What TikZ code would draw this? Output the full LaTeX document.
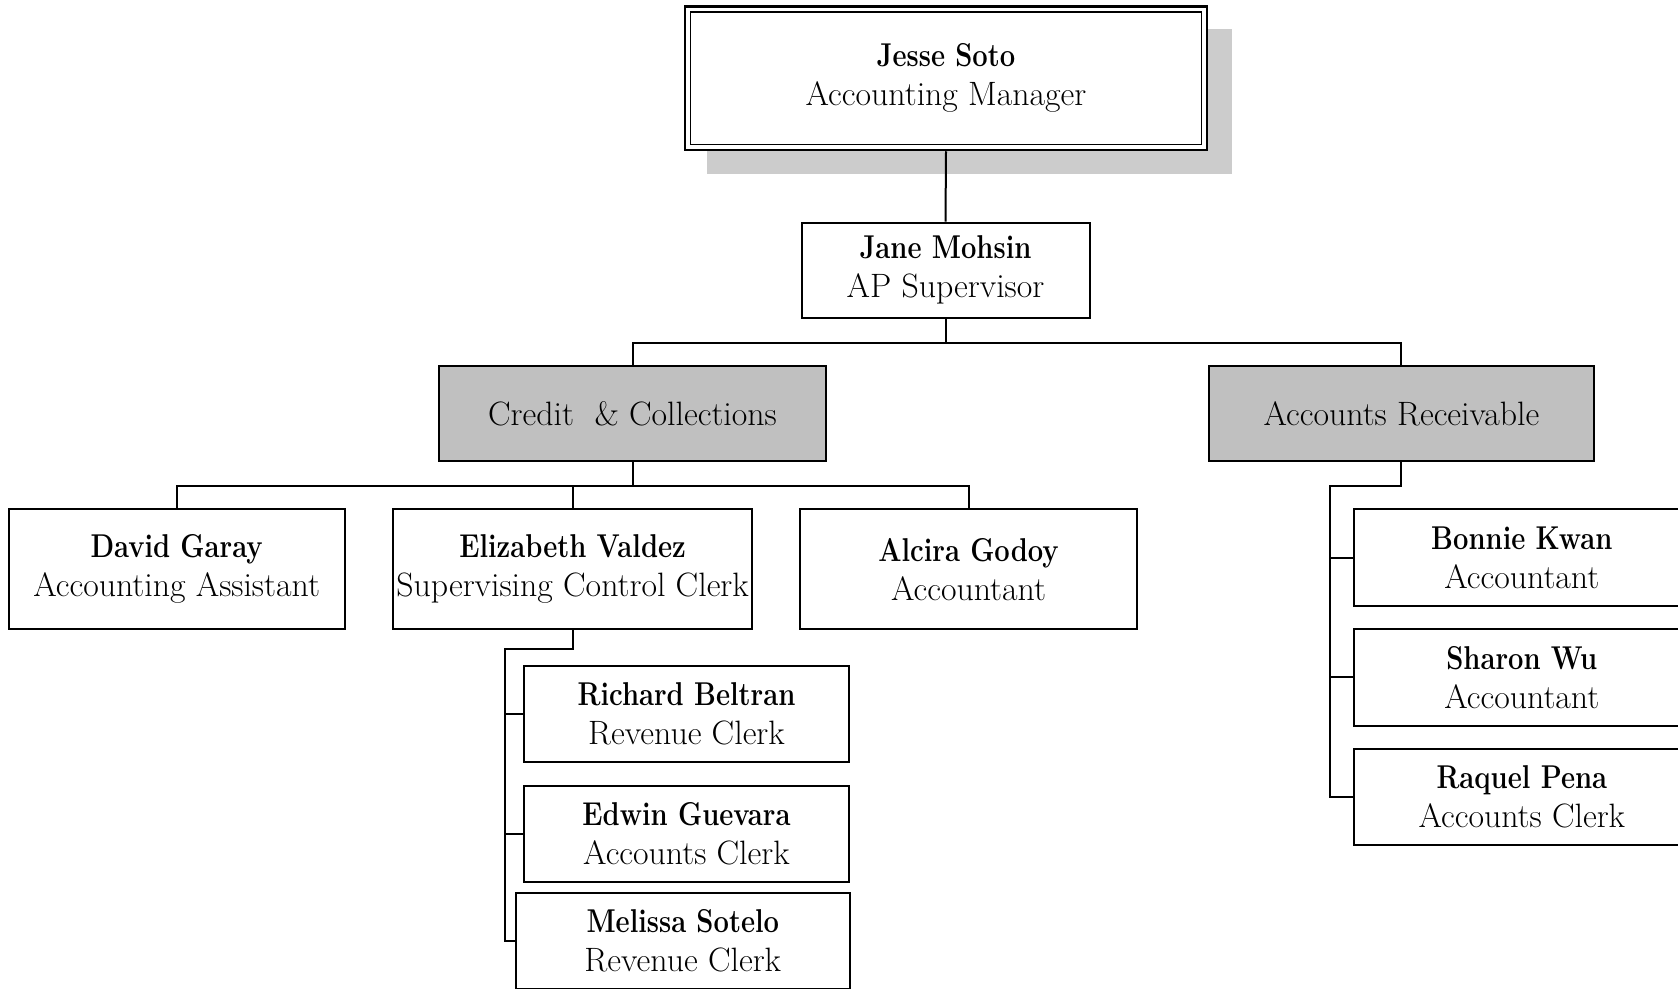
\documentclass[tikz,border=0pt]{standalone}
\newcommand{\pname}[1]{{\fontsize{33}{39}\selectfont\scalebox{0.83}[1]{\textbf{#1}}}}
\begin{document}
\begin{tikzpicture}[x=1pt,y=-1pt,
  pbox/.style={draw, line width=2pt, fill=white, inner sep=0pt, align=center,
    font=\fontsize{33.8}{39}\selectfont},
  gbox/.style={pbox, fill=boxgray},
  conn/.style={line width=2pt}]
\definecolor{boxgray}{HTML}{C0C0C0}
\definecolor{shadowgray}{HTML}{CCCCCC}
\useasboundingbox (0,0) rectangle (1678,988);
\clip (0,0) rectangle (1678,988);
% top box with shadow and double border
\fill[shadowgray] (707,29) rectangle (1232,174);
\node[pbox, line width=2.5pt, minimum width=522pt, minimum height=143.6pt] (jesse) at (946,78.2)
  {\pname{Jesse Soto}\\Accounting Manager};
\draw[line width=1.6pt] (690.5,11.9) rectangle (1201.5,144.5);
% second level
\node[pbox, minimum width=288pt, minimum height=95.2pt] (jane) at (945.5,270.2)
  {\pname{Jane Mohsin}\\AP Supervisor};
\node[gbox, minimum width=387.4pt, minimum height=95.3pt] (credit) at (632.5,413.7)
  {Credit\ \ \& Collections};
\node[gbox, minimum width=384.2pt, minimum height=95.3pt] (ar) at (1401.4,413.7)
  {Accounts Receivable};
% credit children
\node[pbox, minimum width=336pt, minimum height=119.9pt] (david) at (176.6,569.4)
  {\pname{David Garay}\\Accounting Assistant};
\node[pbox, minimum width=359.6pt, minimum height=119.9pt] (eliz) at (572.6,569.4)
  {\pname{Elizabeth Valdez}\\Supervising Control Clerk};
\node[pbox, minimum width=336.1pt, minimum height=119.9pt] (alcira) at (968.5,569.4)
  {\pname{Alcira Godoy}\\Accountant};
% elizabeth children
\node[pbox, minimum width=324.3pt, minimum height=96.3pt] (richard) at (686.5,713.8)
  {\pname{Richard Beltran}\\Revenue Clerk};
\node[pbox, minimum width=324.3pt, minimum height=96.3pt] (edwin) at (686.5,833.7)
  {\pname{Edwin Guevara}\\Accounts Clerk};
\node[pbox, minimum width=334pt, minimum height=96.3pt] (melissa) at (682.8,940.7)
  {\pname{Melissa Sotelo}\\Revenue Clerk};
% AR children
\node[pbox, minimum width=336pt, minimum height=96.3pt] (bonnie) at (1521.8,557.6)
  {\pname{Bonnie Kwan}\\Accountant};
\node[pbox, minimum width=336pt, minimum height=96.3pt] (sharon) at (1521.8,677.4)
  {\pname{Sharon Wu}\\Accountant};
\node[pbox, minimum width=336pt, minimum height=96.3pt] (raquel) at (1521.8,797.3)
  {\pname{Raquel Pena}\\Accounts Clerk};
% bus coordinates
\coordinate (b1) at (0,342.5);
\coordinate (b2) at (0,485.9);
\coordinate (e1) at (505.1,648.5);
\coordinate (a1) at (1330.3,485.9);
% connectors
\draw[conn] (jesse.south) -- (jane.north);
\draw[conn] (jane.south) -- (jane.south |- b1) -| (credit.north);
\draw[conn] (jane.south |- b1) -| (ar.north);
\draw[conn] (credit.south) -- (credit.south |- b2);
\draw[conn] (david.north) |- (alcira.north |- b2) -- (alcira.north);
\draw[conn] (eliz.north) -- (eliz.north |- b2);
\draw[conn] (eliz.south) |- (e1) |- (melissa.west);
\draw[conn] (e1 |- richard.west) -- (richard.west);
\draw[conn] (e1 |- edwin.west) -- (edwin.west);
\draw[conn] (ar.south) |- (a1) |- (raquel.west);
\draw[conn] (a1 |- bonnie.west) -- (bonnie.west);
\draw[conn] (a1 |- sharon.west) -- (sharon.west);
\end{tikzpicture}
\end{document}
